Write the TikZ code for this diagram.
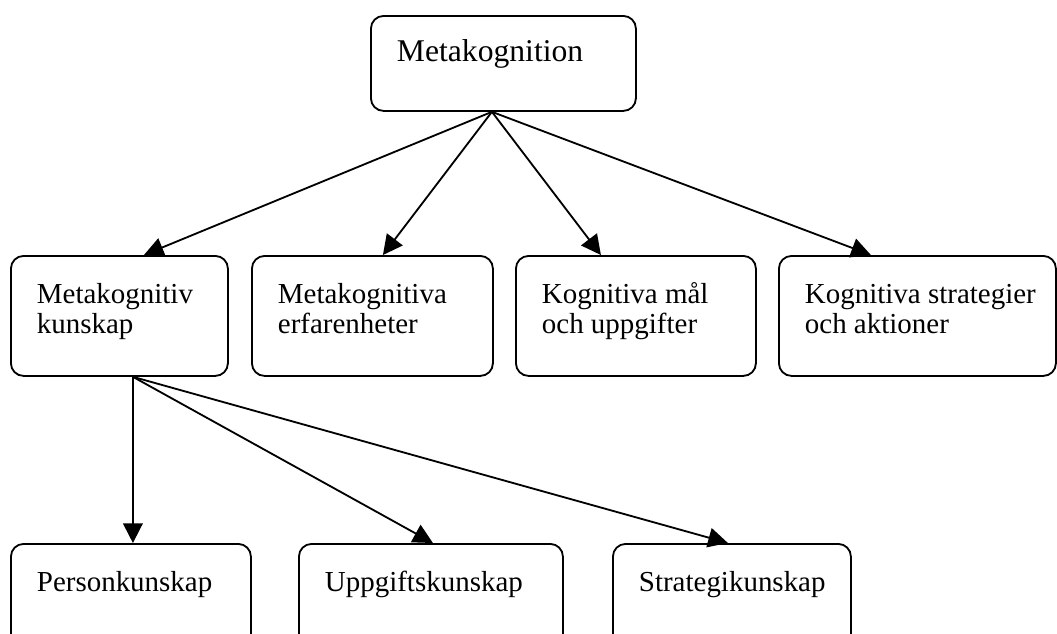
\documentclass[tikz,border=0pt]{standalone}
\usepackage{fontspec}
\setmainfont{Liberation Serif}
\usetikzlibrary{arrows.meta}
\usetikzlibrary{calc}
\newlength{\pxu}
\setlength{\pxu}{0.025cm}
\tikzset{box/.style={draw=black, line width=1.3pt, rounded corners=9pt, anchor=north west, inner sep=0pt}}
\tikzset{arrow/.style={-{Triangle[length=14pt,width=14pt]}, line width=1.3pt}}
\newcommand{\cell}[4][19pt]{%
    \parbox[t][#3\pxu][t]{#2\pxu}{\raggedright\leftskip=26\pxu
    \fontsize{20.6pt}{21.3pt}\selectfont\vspace*{#1}\strut #4}%
}

\begin{document}
\begin{tikzpicture}[x=0.025cm, y=-0.025cm]
        \useasboundingbox (0,0) rectangle (1057,633);

        \node[box] (mk) at (370,15) {\cell[17pt]{265}{95}{\fontsize{22.5pt}{23pt}\selectfont Metakognition}};
        \node[box] (mkk) at (10,255) {\cell{217}{120}{Metakognitiv\\kunskap}};
        \node[box] (mke) at (251,255) {\cell{241}{120}{Metakognitiva\\erfarenheter}};
        \node[box] (kmu) at (515,255) {\cell{240}{120}{Kognitiva mål\\och uppgifter}};
        \node[box] (ksa) at (778,255) {\cell{277}{120}{Kognitiva strategier\\och aktioner}};
        \node[box] (pk) at (10,543) {\cell{240}{120}{Personkunskap}};
        \node[box] (uk) at (298,543) {\cell{264}{120}{Uppgiftskunskap}};
        \node[box] (sk) at (612,543) {\cell{238}{120}{Strategikunskap}};

        \coordinate (mkfoot) at ([xshift=-11.5\pxu]mk.south);
        \coordinate (mkkfoot) at ([xshift=13.5\pxu]mkk.south);

        \draw[arrow] (mkfoot) -- ([xshift=24.5\pxu]mkk.north);
        \draw[arrow] (mkfoot) -- ([xshift=10.5\pxu]mke.north);
        \draw[arrow] (mkfoot) -- ([xshift=-35\pxu]kmu.north);
        \draw[arrow] (mkfoot) -- ([xshift=-46.5\pxu]ksa.north);

        \draw[arrow] (mkkfoot) -- ([xshift=2\pxu]pk.north);
        \draw[arrow] (mkkfoot) -- ([xshift=2\pxu]uk.north);
        \draw[arrow] (mkkfoot) -- ([xshift=-4\pxu]sk.north);
\end{tikzpicture}
\end{document}
